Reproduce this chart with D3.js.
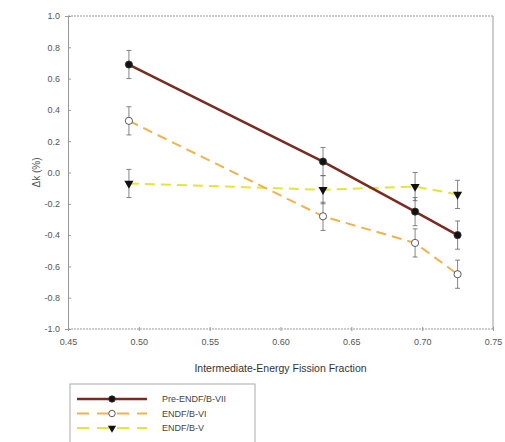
<!DOCTYPE html>
<html>
<head>
<meta charset="utf-8">
<script src="https://cdn.jsdelivr.net/npm/d3@7"></script>
<style>
body { margin: 0; background: #fff; }
text { font-family: "Liberation Sans", Arial, sans-serif; }
</style>
</head>
<body>
<div id="chart"></div>
<script>
var width = 505, height = 442;

// data
var fractions = [0.493, 0.63, 0.695, 0.725];
var preVII = [0.69, 0.07, -0.25, -0.40];
var endfVI = [0.33, -0.28, -0.45, -0.65];
var endfV = [-0.07, -0.11, -0.09, -0.14];
var errBar = 0.09;
var xTicks = [0.45, 0.50, 0.55, 0.60, 0.65, 0.70, 0.75];
var yTicks = [1.0, 0.8, 0.6, 0.4, 0.2, 0.0, -0.2, -0.4, -0.6, -0.8, -1.0];

var svg = d3.select("#chart").append("svg")
  .attr("width", width)
  .attr("height", height);

var x = d3.scaleLinear().domain([0.45, 0.75]).range([68, 493]);
var y = d3.scaleLinear().domain([-1, 1]).range([329, 16]);

var axisColor = "#999";

// frame: dotted top/bottom, solid left/right
svg.append("line").attr("x1", x(0.45)).attr("x2", x(0.75)).attr("y1", y(1)).attr("y2", y(1))
  .attr("stroke", axisColor).attr("stroke-dasharray", "2,1");
svg.append("line").attr("x1", x(0.45)).attr("x2", x(0.75)).attr("y1", y(-1)).attr("y2", y(-1))
  .attr("stroke", axisColor).attr("stroke-dasharray", "2,1");
svg.append("line").attr("x1", x(0.75)).attr("x2", x(0.75)).attr("y1", y(1)).attr("y2", y(-1))
  .attr("stroke", axisColor);

var yAxis = svg.append("g")
  .attr("transform", "translate(" + x(0.45) + ",0)")
  .call(d3.axisLeft(y).tickValues(yTicks).tickSize(3).tickFormat(d3.format(".1f")));
yAxis.select(".domain").attr("stroke", axisColor);
yAxis.selectAll(".tick line").attr("stroke", axisColor).attr("x2", 3);
yAxis.selectAll(".tick text").attr("fill", "#555").style("font-size", "9px").attr("x", -8)
  .text(function(d){ return d3.format(".1f")(d).replace("−", "-"); });

var xAxis = svg.append("g")
  .attr("transform", "translate(0," + y(-1) + ")")
  .call(d3.axisBottom(x).tickValues(xTicks).tickSize(3).tickFormat(d3.format(".2f")));
xAxis.select(".domain").remove();
xAxis.selectAll(".tick line").attr("stroke", axisColor).attr("y1", -2).attr("y2", 2);
xAxis.selectAll(".tick text").attr("fill", "#555").style("font-size", "9px").attr("y", 10);

svg.append("text")
  .attr("x", x(0.60)).attr("y", 372)
  .attr("text-anchor", "middle")
  .style("font-size", "10.5px").attr("fill", "#333")
  .text("Intermediate-Energy Fission Fraction");

svg.append("text")
  .attr("transform", "translate(40," + y(0) + ") rotate(-90)")
  .attr("text-anchor", "middle")
  .style("font-size", "10px").attr("fill", "#555")
  .text("Δk (%)");

var series = [
  { name: "Pre-ENDF/B-VII", values: preVII, color: "#7a2a1e", width: 2.5, dash: null, marker: "circle", fill: "#111" },
  { name: "ENDF/B-VI", values: endfVI, color: "#f2b24a", width: 2, dash: "10,6", marker: "circle", fill: "#fff" },
  { name: "ENDF/B-V", values: endfV, color: "#e4e43a", width: 2, dash: "10,6", marker: "triangle", fill: "#111" }
];

var line = d3.line()
  .x(function(d){ return x(d[0]); })
  .y(function(d){ return y(d[1]); });

// error bars
series.forEach(function(s){
  var pts = fractions.map(function(f, i){ return [f, s.values[i]]; });
  var eb = svg.append("g");
  pts.forEach(function(p){
    eb.append("line").attr("x1", x(p[0])).attr("x2", x(p[0]))
      .attr("y1", y(p[1] + errBar)).attr("y2", y(p[1] - errBar))
      .attr("stroke", "#666").attr("stroke-width", 0.8);
    [p[1] + errBar, p[1] - errBar].forEach(function(v){
      eb.append("line").attr("x1", x(p[0]) - 2.5).attr("x2", x(p[0]) + 2.5)
        .attr("y1", y(v)).attr("y2", y(v))
        .attr("stroke", "#666").attr("stroke-width", 0.8);
    });
  });
});

// lines (drawn V, VI, then VII on top)
series.slice().reverse().forEach(function(s){
  var pts = fractions.map(function(f, i){ return [f, s.values[i]]; });
  svg.append("path").datum(pts)
    .attr("d", line)
    .attr("fill", "none")
    .attr("stroke", s.color)
    .attr("stroke-width", s.width)
    .attr("stroke-dasharray", s.dash);
});

function drawMarker(g, s, cx, cy, scale) {
  if (s.marker === "circle") {
    g.append("circle").attr("cx", cx).attr("cy", cy).attr("r", 3.6 * scale)
      .attr("fill", s.fill).attr("stroke", "#333").attr("stroke-width", 0.8);
  } else {
    g.append("path")
      .attr("d", d3.symbol().type(d3.symbolTriangle).size(36 * scale * scale))
      .attr("transform", "translate(" + cx + "," + cy + ") rotate(180)")
      .attr("fill", s.fill);
  }
}

series.forEach(function(s){
  var mg = svg.append("g");
  fractions.forEach(function(f, i){
    drawMarker(mg, s, x(f), y(s.values[i]), 1);
  });
});

// legend
var legend = svg.append("g").attr("transform", "translate(70,384)");
legend.append("rect")
  .attr("width", 185).attr("height", 62)
  .attr("fill", "#fff").attr("stroke", "#aaa");

series.forEach(function(s, i){
  var row = legend.append("g").attr("transform", "translate(0," + (15 + i * 14.5) + ")");
  row.append("line").attr("x1", 7).attr("x2", 77).attr("y1", 0).attr("y2", 0)
    .attr("stroke", s.color).attr("stroke-width", s.width)
    .attr("stroke-dasharray", s.dash ? "12,8" : null);
  drawMarker(row, s, 42, 0, 0.9);
  row.append("text").attr("x", 92).attr("y", 3)
    .style("font-size", "9px").attr("fill", "#444")
    .text(s.name);
});
</script>
</body>
</html>
